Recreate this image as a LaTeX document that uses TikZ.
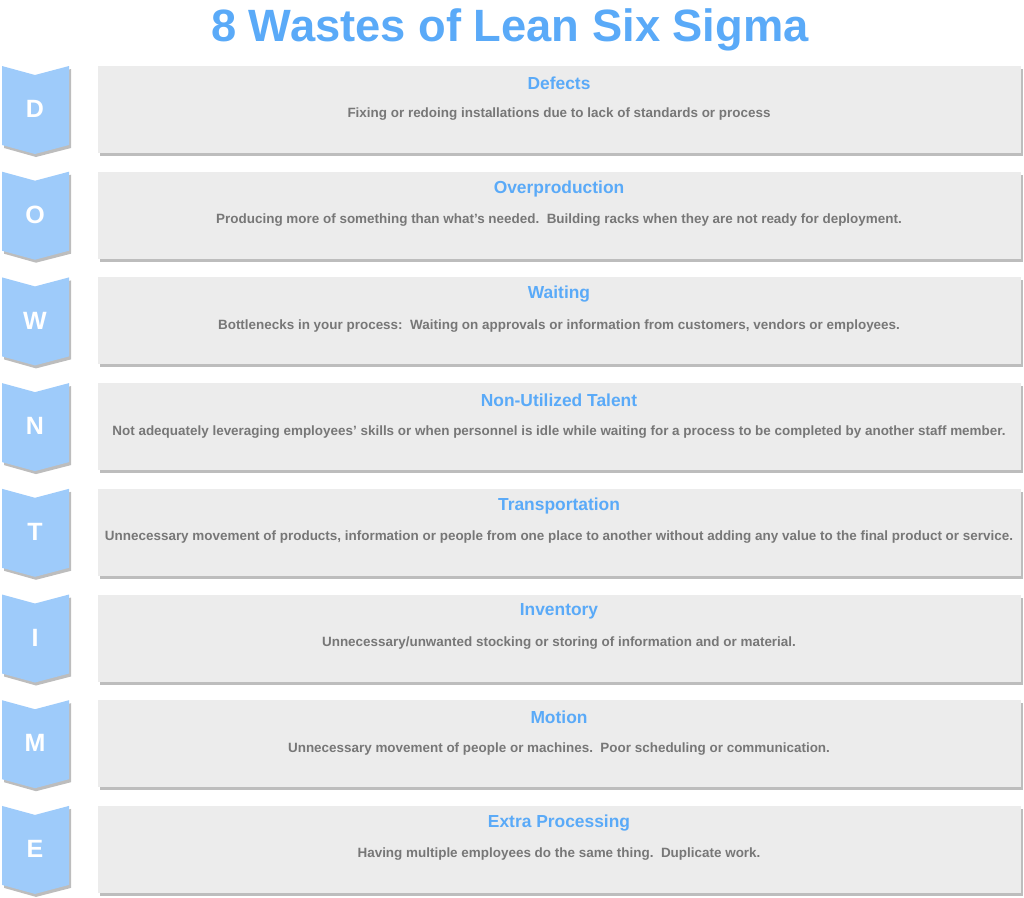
\documentclass[tikz,border=0pt]{standalone}
\usepackage{fontspec}
\setmainfont{Liberation Sans}
\definecolor{blu}{HTML}{5AAAF8}
\definecolor{chev}{HTML}{9ECBFA}
\definecolor{boxf}{HTML}{ECECEC}
\definecolor{shad}{HTML}{BDBDBD}
\definecolor{txt}{HTML}{777777}
\tikzset{
 x=1pt,y=-1pt,
 wbox/.style={fill=boxf,draw=none},
 head/.style={font=\fontsize{17.4}{19}\selectfont\bfseries,text=blu},
 desc/.style={font=\fontsize{13.45}{15}\selectfont\bfseries,text=txt},
 lett/.style={font=\fontsize{25}{28}\selectfont\bfseries,text=white}
}
\begin{document}
\begin{tikzpicture}
\useasboundingbox (0,0) rectangle (1024,897);
\node[font=\fontsize{45.3}{50}\selectfont\bfseries,text=blu] (title) at (510,30) {8 Wastes of Lean Six Sigma};
\foreach \i/\L/\H/\D in {
0/D/Defects/Fixing or redoing installations due to lack of standards or process,
1/O/Overproduction/{Producing more of something than what's needed.\ \ Building racks when they are not ready for deployment.},
2/W/Waiting/{Bottlenecks in your process:\ \ Waiting on approvals or information from customers, vendors or employees.},
3/N/Non-Utilized Talent/{Not adequately leveraging employees' skills or when personnel is idle while waiting for a process to be completed by another staff member.},
4/T/Transportation/{Unnecessary movement of products, information or people from one place to another without adding any value to the final product or service.},
5/I/Inventory/{Unnecessary/unwanted stocking or storing of information and or material.},
6/M/Motion/{Unnecessary movement of people or machines.\ \ Poor scheduling or communication.},
7/E/Extra Processing/{Having multiple employees do the same thing.\ \ Duplicate work.}}{
 \pgfmathsetmacro{\y}{66+105.7*\i}
 \fill[shad] (100,\y+3) rectangle (1023,\y+90);
 \fill[boxf] (98,\y) rectangle (1021,\y+87);
 \fill[shad] (4,\y+3) -- (36,\y+12) -- (71,\y+3) -- (71,\y+82) -- (36,\y+91) -- (4,\y+82) -- cycle;
 \fill[chev] (2,\y) -- (35,\y+9) -- (69,\y) -- (69,\y+79) -- (35,\y+88) -- (2,\y+79) -- cycle;
 \node[lett] (l\i) at (35,\y+43) {\L};
 \node[head] (h\i) at (559,\y+17) {\H};
 \node[desc] (d\i) at (559,\y+48.5) {\D};
}
\end{tikzpicture}
\end{document}
